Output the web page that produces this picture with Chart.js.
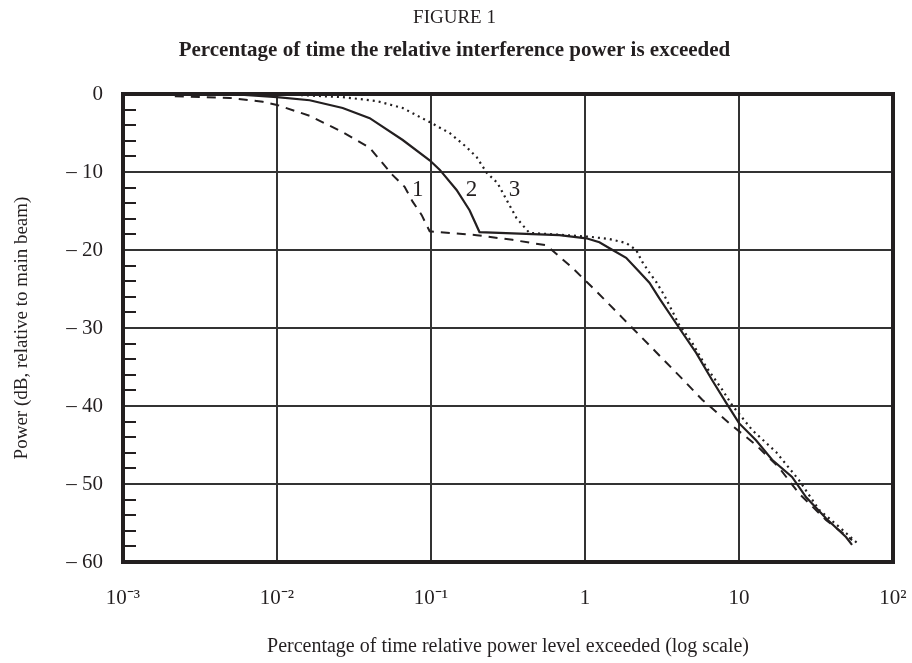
<!DOCTYPE html>
<html>
<head>
<meta charset="utf-8">
<script src="https://cdn.jsdelivr.net/npm/chart.js"></script>
<style>
  body { margin: 0; background: #fff; }
</style>
</head>
<body>
<canvas id="chart" width="912" height="663"></canvas>
<script>
// Curve 1 (dashed)
const x1 = [0.00217, 0.00494, 0.00809, 0.01, 0.0163, 0.0267, 0.040, 0.0564, 0.0674, 0.076, 0.0869, 0.098,
  0.198, 0.338, 0.562, 0.829, 0.99, 1.20, 1.75, 2.90, 4.22, 5.77, 8.63, 12.9, 18.2, 24.5, 36.7, 54.2];
const y1 = [-0.3, -0.5, -1.0, -1.4, -2.8, -4.9, -6.9, -10.4, -11.9, -13.8, -15.5, -17.6,
  -18.1, -18.7, -19.4, -22.3, -23.8, -25.4, -28.7, -33.1, -36.4, -39.2, -42.2, -45.0, -47.9, -51.2, -54.6, -57.2];

// Curve 2 (solid)
const x2 = [0.00217, 0.00494, 0.01, 0.0163, 0.0267, 0.040, 0.0655, 0.098, 0.1138, 0.1466, 0.178, 0.2065,
  0.682, 1.02, 1.24, 1.51, 1.85, 2.25, 2.62, 3.04, 4.09, 5.27, 6.70, 8.26, 10.0, 12.9, 16.4, 22.1, 27.3, 36.7, 49.5, 54.2];
const y2 = [0, 0, -0.4, -0.8, -1.8, -3.1, -5.9, -8.5, -9.7, -12.3, -14.9, -17.7,
  -18.1, -18.5, -19.0, -20.0, -21.0, -22.8, -24.2, -26.2, -30.0, -33.2, -36.7, -39.6, -42.2, -44.4, -46.9, -49.1, -51.7, -54.4, -56.8, -57.8];

// Curve 3 (dotted)
const x3 = [0.01, 0.0267, 0.0444, 0.0655, 0.098, 0.132, 0.170, 0.198, 0.230, 0.270, 0.314, 0.359, 0.435,
  0.757, 1.07, 1.44, 1.85, 2.15, 2.35, 2.62, 2.90, 3.27, 4.09, 4.97, 6.13, 7.78, 9.03, 12.2, 17.4, 24.5, 33.1, 44.7, 60.3];
const y3 = [0, -0.4, -0.9, -1.8, -3.6, -5.0, -6.8, -8.1, -10.1, -11.4, -13.8, -15.9, -17.8,
  -18.1, -18.3, -18.6, -19.1, -20.0, -21.5, -22.9, -24.1, -25.8, -29.6, -31.9, -35.0, -37.9, -39.9, -43.1, -45.9, -49.5, -53.3, -55.5, -57.8];

const xTicks = [0.001, 0.01, 0.1, 1, 10, 100];
const xTickLabels = ['10⁻³', '10⁻²', '10⁻¹', '1', '10', '10²'];

// curve numbers written on the chart
const curveNames = ['1', '2', '3'];
const curveNameX = [0.082, 0.183, 0.348];
const curveNameY = [-12.3, -12.3, -12.3];

const ink = '#231f20';
const serif = "'Liberation Serif', 'Times New Roman', serif";

function points(xs, ys) {
  return xs.map((x, i) => ({ x: x, y: ys[i] }));
}

// frame, small inside ticks on the left and the curve numbers
const decorations = {
  id: 'decorations',
  afterDatasetsDraw(chart) {
    const { ctx, chartArea: a, scales } = chart;
    ctx.save();
    ctx.strokeStyle = ink;
    ctx.lineWidth = 2;
    scales.y.ticks.forEach(t => {
      if (t.value % 10 === 0) return;
      const py = Math.round(scales.y.getPixelForValue(t.value));
      ctx.beginPath();
      ctx.moveTo(a.left, py);
      ctx.lineTo(a.left + 13, py);
      ctx.stroke();
    });
    ctx.lineWidth = 4;
    ctx.strokeRect(a.left, a.top, a.right - a.left, a.bottom - a.top);

    ctx.fillStyle = ink;
    ctx.font = '23px ' + serif;
    ctx.textAlign = 'center';
    ctx.textBaseline = 'middle';
    curveNames.forEach((n, i) => {
      ctx.fillText(n, scales.x.getPixelForValue(curveNameX[i]), scales.y.getPixelForValue(curveNameY[i]));
    });
    ctx.restore();
  }
};

new Chart(document.getElementById('chart'), {
  type: 'line',
  data: {
    datasets: [
      { data: points(x1, y1), borderColor: ink, borderWidth: 2, borderDash: [9, 7] },
      { data: points(x2, y2), borderColor: ink, borderWidth: 2.2 },
      { data: points(x3, y3), borderColor: ink, borderWidth: 2.2, borderDash: [2, 4] }
    ]
  },
  options: {
    responsive: false,
    animation: false,
    layout: { padding: { left: 0, right: 3, top: 0, bottom: 0 } },
    elements: { point: { radius: 0 }, line: { tension: 0 } },
    plugins: {
      legend: { display: false },
      tooltip: { enabled: false },
      title: {
        display: true,
        text: 'FIGURE 1',
        color: ink,
        font: { family: serif, size: 19, weight: 'normal' },
        padding: { top: 7, bottom: 3 }
      },
      subtitle: {
        display: true,
        text: 'Percentage of time the relative interference power is exceeded',
        color: ink,
        font: { family: serif, size: 21, weight: 'bold' },
        padding: { top: 4.7, bottom: 31.3 }
      }
    },
    scales: {
      x: {
        type: 'logarithmic',
        min: 0.001,
        max: 100,
        afterBuildTicks: scale => { scale.ticks = xTicks.map(v => ({ value: v })); },
        afterFit: scale => {
          scale.height = 101;
          scale.paddingLeft = 0;
          scale.paddingRight = 19;
        },
        grid: { color: '#333', lineWidth: 2, drawTicks: false },
        border: { display: false },
        ticks: {
          autoSkip: false,
          maxRotation: 0,
          padding: 24,
          color: ink,
          font: { family: serif, size: 21 },
          callback: (v, i) => xTickLabels[i]
        },
        title: {
          display: true,
          text: 'Percentage of time relative power level exceeded (log scale)',
          color: ink,
          font: { family: serif, size: 20 },
          padding: { top: 0, bottom: 4 }
        }
      },
      y: {
        min: -60,
        max: 0,
        afterFit: scale => { scale.width = 123; },
        grid: {
          color: c => (c.tick && c.tick.value % 10 === 0) ? '#333' : 'rgba(0,0,0,0)',
          lineWidth: 2,
          drawTicks: false
        },
        border: { display: false },
        ticks: {
          stepSize: 2,
          autoSkip: false,
          padding: 20,
          color: ink,
          font: { family: serif, size: 21 },
          callback: v => v % 10 !== 0 ? '' : (v === 0 ? '0' : '– ' + Math.abs(v))
        },
        title: {
          display: true,
          text: 'Power (dB, relative to main beam)',
          color: ink,
          font: { family: serif, size: 19 },
          padding: { top: 10.6, bottom: 0 }
        }
      }
    }
  },
  plugins: [decorations]
});
</script>
</body>
</html>
